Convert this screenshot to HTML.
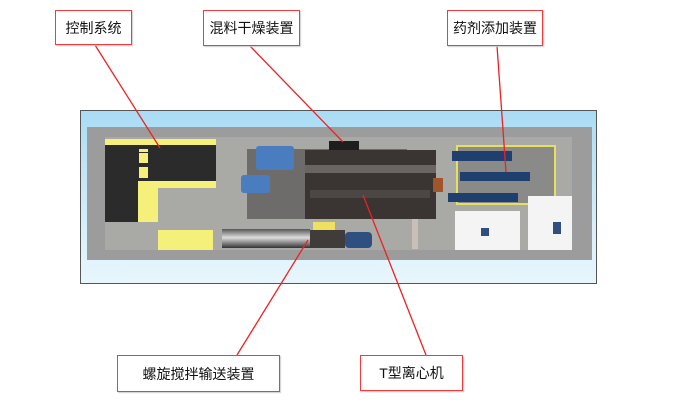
<!DOCTYPE html>
<html><head><meta charset="utf-8"><style>
body{margin:0;width:680px;height:400px;background:#fff;position:relative;overflow:hidden;font-family:"Liberation Sans","Noto Sans CJK SC",sans-serif}
div{position:absolute;box-sizing:border-box}
.lb{border:1.5px solid #f03c3c;background:#fff;font-size:14px;color:#111;display:flex;align-items:center;justify-content:center;box-shadow:1px 1px 1px #ccc}
</style></head><body>
<div style="left:80px;top:110px;width:517px;height:174px;border:1px solid #555;background:linear-gradient(180deg,#a9dcf5,#d8f0fb 70%,#e8f6fc)"></div>
<div style="left:87px;top:127px;width:505px;height:133px;background:#9c9c9c"></div>
<div style="left:105px;top:137px;width:467px;height:113px;background:#a9a9a6"></div>
<!-- control -->
<div style="left:105px;top:139px;width:111px;height:6px;background:#f5f07a"></div>
<div style="left:105px;top:145px;width:111px;height:36px;background:#2b2b2b"></div>
<div style="left:105px;top:181px;width:33px;height:41px;background:#2b2b2b"></div>
<div style="left:138px;top:181px;width:78px;height:7px;background:#f5f07a"></div>
<div style="left:138px;top:188px;width:20px;height:34px;background:#f5f07a"></div>
<div style="left:139px;top:149px;width:9px;height:3px;background:#f5f07a"></div>
<div style="left:139px;top:153px;width:9px;height:10px;background:#f5f07a"></div>
<div style="left:139px;top:167px;width:9px;height:11px;background:#f5f07a"></div>
<div style="left:158px;top:230px;width:55px;height:20px;background:#f5f07a"></div>
<!-- centrifuge -->
<div style="left:247px;top:149px;width:160px;height:70px;background:#6e6c6a"></div>
<div style="left:305px;top:150px;width:131px;height:69px;background:#3a3432"></div>
<div style="left:305px;top:165px;width:131px;height:8px;background:#6a6462"></div>
<div style="left:310px;top:190px;width:120px;height:8px;background:#4c4644"></div>
<div style="left:329px;top:141px;width:30px;height:9px;background:#1e1e1e"></div>
<div style="left:433px;top:178px;width:10px;height:14px;background:#a0562a"></div>
<div style="left:256px;top:146px;width:38px;height:24px;background:#4a7dc0;border-radius:3px"></div>
<div style="left:241px;top:175px;width:29px;height:18px;background:#4a7dc0;border-radius:3px"></div>
<!-- screw -->
<div style="left:222px;top:229px;width:88px;height:19px;background:linear-gradient(#555,#ddd 45%,#333)"></div>
<div style="left:310px;top:230px;width:35px;height:18px;background:#3f3c3a"></div>
<div style="left:345px;top:232px;width:27px;height:16px;background:#2f4f80;border-radius:4px"></div>
<div style="left:313px;top:222px;width:22px;height:8px;background:#eee060"></div>
<div style="left:412px;top:219px;width:6px;height:30px;background:#c8c0b8"></div>
<!-- right -->
<div style="left:456px;top:145px;width:100px;height:60px;border:2px solid #e6e060;background:#8a8a88"></div>
<div style="left:452px;top:151px;width:60px;height:10px;background:#1f3f6e"></div>
<div style="left:460px;top:172px;width:70px;height:9px;background:#1f3f6e"></div>
<div style="left:448px;top:193px;width:70px;height:9px;background:#1f3f6e"></div>
<div style="left:455px;top:211px;width:65px;height:39px;background:#f4f4f4"></div>
<div style="left:528px;top:196px;width:44px;height:54px;background:#f4f4f4"></div>
<div style="left:481px;top:228px;width:8px;height:8px;background:#2f4f80"></div>
<div style="left:553px;top:222px;width:8px;height:12px;background:#2f4f80"></div>
<svg width="680" height="400" style="position:absolute;left:0;top:0" stroke="#f02020" stroke-width="1.3">
<line x1="95" y1="45" x2="160" y2="148"/>
<line x1="250" y1="46" x2="343" y2="142"/>
<line x1="497" y1="46" x2="506" y2="172"/>
<line x1="237" y1="355" x2="308" y2="240"/>
<line x1="426" y1="355" x2="363" y2="195"/>
</svg>
<div class="lb" style="left:55px;top:10px;width:77px;height:35px">控制系统</div>
<div class="lb" style="left:203px;top:10px;width:97px;height:36px">混料干燥装置</div>
<div class="lb" style="left:447px;top:10px;width:96px;height:36px">药剂添加装置</div>
<div class="lb" style="left:117px;top:355px;width:163px;height:37px">螺旋搅拌输送装置</div>
<div class="lb" style="left:360px;top:355px;width:103px;height:36px">T型离心机</div>
</body></html>
